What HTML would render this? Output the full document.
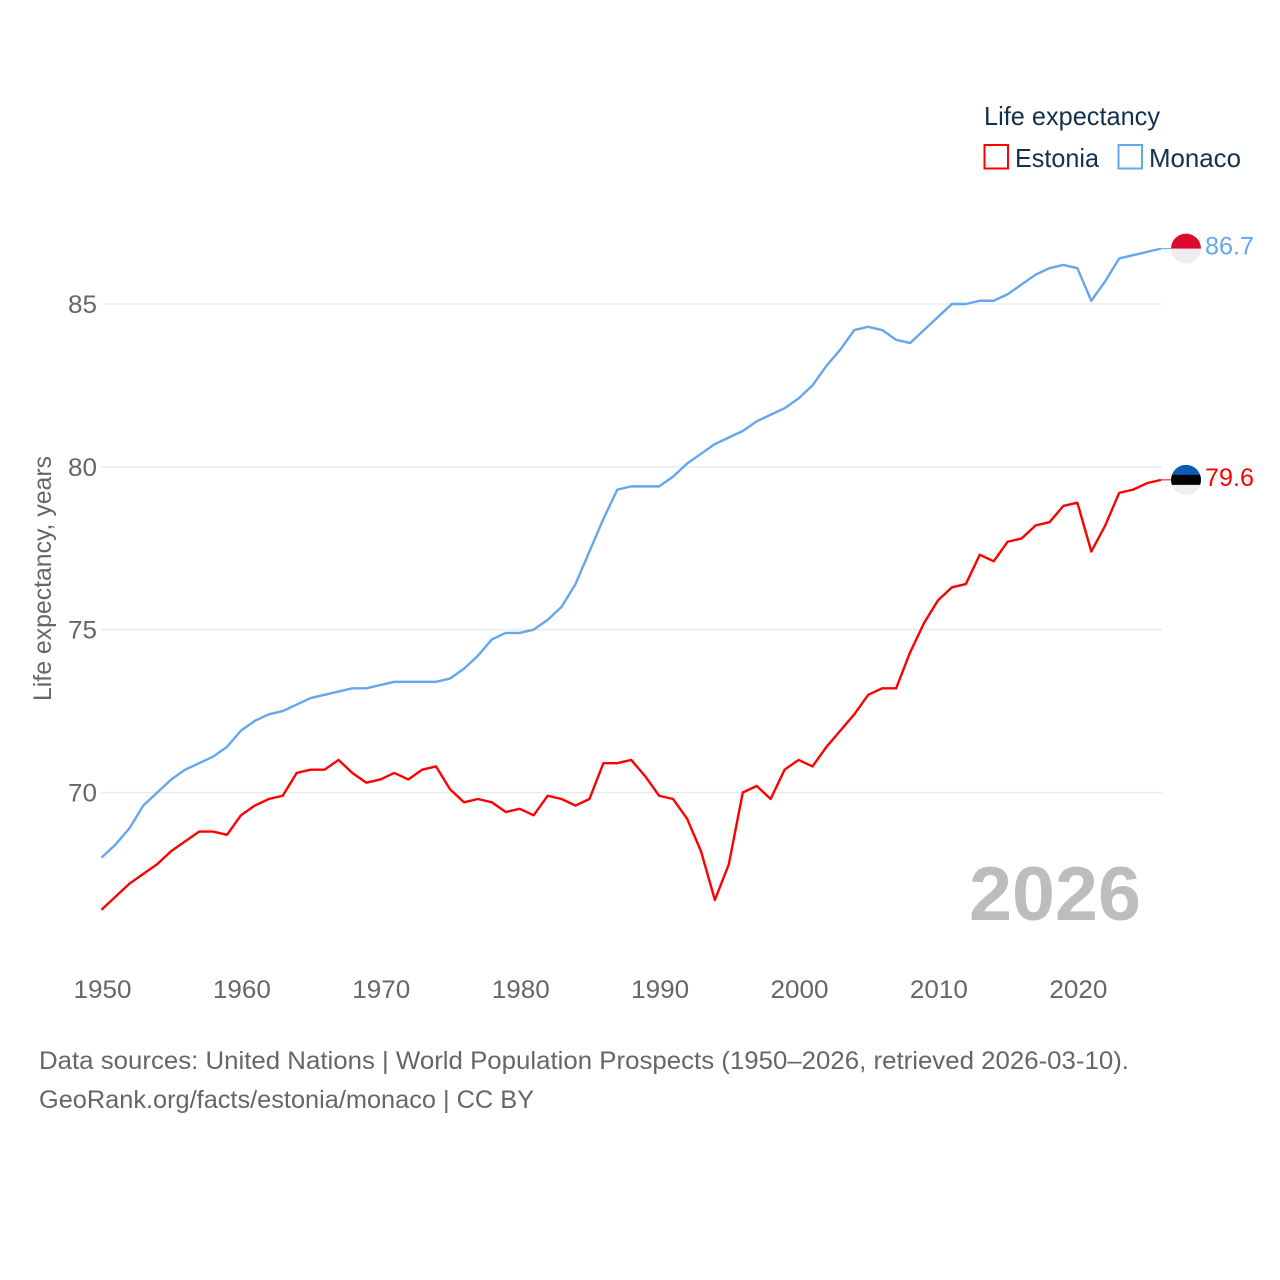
<!DOCTYPE html>
<html lang="en">
<head>
<meta charset="utf-8">
<title>Life expectancy: Estonia and Monaco</title>
<style>
html,body{margin:0;padding:0;background:#fff;width:1280px;height:1280px;overflow:hidden}
svg{display:block;font-family:"Liberation Sans",sans-serif}
</style>
</head>
<body>
<svg id="chart" width="1280" height="1280" viewBox="0 0 1280 1280" xmlns="http://www.w3.org/2000/svg">
  <rect width="1280" height="1280" fill="#fff"/>
  <g id="grid"></g>
  <g id="yticks"></g>
  <g id="xticks"></g>
  <text transform="translate(51,701) rotate(-90)" font-size="25" fill="#666" textLength="245" lengthAdjust="spacingAndGlyphs">Life expectancy, years</text>
  <text x="969" y="920" font-size="76" font-weight="700" fill="#bdbdbd" textLength="172" lengthAdjust="spacingAndGlyphs">2026</text>
  <g id="series"></g>

  <g>
    <text x="984" y="125" font-size="26" fill="#15304f" textLength="176" lengthAdjust="spacingAndGlyphs">Life expectancy</text>
    <g>
      <rect x="984.5" y="145" width="23.5" height="23.5" fill="#fff" stroke="#ff0000" stroke-width="2"/>
      <text x="1015" y="167" font-size="26" fill="#15304f" textLength="84" lengthAdjust="spacingAndGlyphs">Estonia</text>
    </g>
    <g>
      <rect x="1118.5" y="145" width="23.5" height="23.5" fill="#fff" stroke="#64a7ee" stroke-width="2"/>
      <text x="1149" y="167" font-size="26" fill="#15304f" textLength="92" lengthAdjust="spacingAndGlyphs">Monaco</text>
    </g>
  </g>

  <g font-size="25" fill="#666">
    <text x="39" y="1069" textLength="1090" lengthAdjust="spacingAndGlyphs">Data sources: United Nations | World Population Prospects (1950–2026, retrieved 2026-03-10).</text>
    <text x="39" y="1108" textLength="495" lengthAdjust="spacingAndGlyphs">GeoRank.org/facts/estonia/monaco | CC BY</text>
  </g>
</svg>
<script>
const years = [1950,1951,1952,1953,1954,1955,1956,1957,1958,1959,1960,1961,1962,1963,1964,1965,1966,1967,1968,1969,1970,1971,1972,1973,1974,1975,1976,1977,1978,1979,1980,1981,1982,1983,1984,1985,1986,1987,1988,1989,1990,1991,1992,1993,1994,1995,1996,1997,1998,1999,2000,2001,2002,2003,2004,2005,2006,2007,2008,2009,2010,2011,2012,2013,2014,2015,2016,2017,2018,2019,2020,2021,2022,2023,2024,2025,2026];
const estoniaValues = [66.4,66.8,67.2,67.5,67.8,68.2,68.5,68.8,68.8,68.7,69.3,69.6,69.8,69.9,70.6,70.7,70.7,71.0,70.6,70.3,70.4,70.6,70.4,70.7,70.8,70.1,69.7,69.8,69.7,69.4,69.5,69.3,69.9,69.8,69.6,69.8,70.9,70.9,71.0,70.5,69.9,69.8,69.2,68.2,66.7,67.8,70.0,70.2,69.8,70.7,71.0,70.8,71.4,71.9,72.4,73.0,73.2,73.2,74.3,75.2,75.9,76.3,76.4,77.3,77.1,77.7,77.8,78.2,78.3,78.8,78.9,77.4,78.2,79.2,79.3,79.5,79.6];
const monacoValues = [68.0,68.4,68.9,69.6,70.0,70.4,70.7,70.9,71.1,71.4,71.9,72.2,72.4,72.5,72.7,72.9,73.0,73.1,73.2,73.2,73.3,73.4,73.4,73.4,73.4,73.5,73.8,74.2,74.7,74.9,74.9,75.0,75.3,75.7,76.4,77.4,78.4,79.3,79.4,79.4,79.4,79.7,80.1,80.4,80.7,80.9,81.1,81.4,81.6,81.8,82.1,82.5,83.1,83.6,84.2,84.3,84.2,83.9,83.8,84.2,84.6,85.0,85.0,85.1,85.1,85.3,85.6,85.9,86.1,86.2,86.1,85.1,85.7,86.4,86.5,86.6,86.7];
const yTickValues = [70,75,80,85];
const xTickValues = [1950,1960,1970,1980,1990,2000,2010,2020];

const NS = 'http://www.w3.org/2000/svg';
function xScale(year){ return 101.5 + (year - 1950) * (1161 - 101.5) / 76; }
function yScale(v){ return 792.5 - (v - 70) * (792.5 - 304) / 15; }
function mk(tag, attrs, parent){
  const el = document.createElementNS(NS, tag);
  for (const k in attrs) el.setAttribute(k, attrs[k]);
  parent.appendChild(el);
  return el;
}
const grid = document.getElementById('grid');
const yticks = document.getElementById('yticks');
const xticks = document.getElementById('xticks');
const series = document.getElementById('series');

yTickValues.forEach(function(v){
  const line = mk('line', {x1:101.5, x2:1162, y1:yScale(v), y2:yScale(v), stroke:'#e9e9e9', 'stroke-width':1.3}, grid);
  
  
  const t = mk('text', {x:68, y:yScale(v)+9, 'font-size':25, fill:'#666', textLength:29, lengthAdjust:'spacingAndGlyphs'}, yticks);
  
  
  t.textContent = v;
});
xTickValues.forEach(function(y){
  const t = mk('text', {x:xScale(y)+1, y:998, 'font-size':25, fill:'#666', 'text-anchor':'middle', textLength:58, lengthAdjust:'spacingAndGlyphs'}, xticks);
  
  
  t.textContent = y;
});

function linePath(vals){
  return vals.map(function(v,i){ return (i?'L':'M') + xScale(years[i]).toFixed(2) + ' ' + yScale(v).toFixed(2); }).join('');
}
function drawSeries(name, vals, color, bands){
  const lastV = vals[vals.length-1];
  const lastX = xScale(years[years.length-1]);
  const cy = yScale(lastV);
  const cx = 1186;
  const r = 15;
  const g = mk('g', {}, series);
  
  
  const p = mk('path', {d:linePath(vals), fill:'none', stroke:color, 'stroke-width':2.4, 'stroke-linejoin':'round'}, g);
  
  
  const c = mk('line', {x1:lastX, x2:cx-r+1, y1:cy, y2:cy, stroke:color, 'stroke-width':1}, g);
  
  
  const clipId = 'clip-' + name;
  const defs = mk('defs', {}, g);
  const clip = mk('clipPath', {id:clipId}, defs);
  mk('circle', {cx:cx, cy:cy, r:r}, clip);
  const flag = mk('g', {'clip-path':'url(#' + clipId + ')'}, g);
  
  
  const h = 2 * r / bands.length;
  bands.forEach(function(b,i){
    mk('rect', {x:cx-r, y:cy-r+i*h, width:2*r, height:h+0.2, fill:b}, flag);
  });
  const label = mk('text', {x:1205, y:cy+6, 'font-size':25, fill:color, textLength:49, lengthAdjust:'spacingAndGlyphs'}, g);
  
  
  label.textContent = lastV.toFixed(1);
}
drawSeries('estonia', estoniaValues, '#ff0000', ['#0a5cb5','#000000','#eeeeee']);
drawSeries('monaco', monacoValues, '#64a7ee', ['#dc0a2d','#eeeeee']);
</script>
</body>
</html>
